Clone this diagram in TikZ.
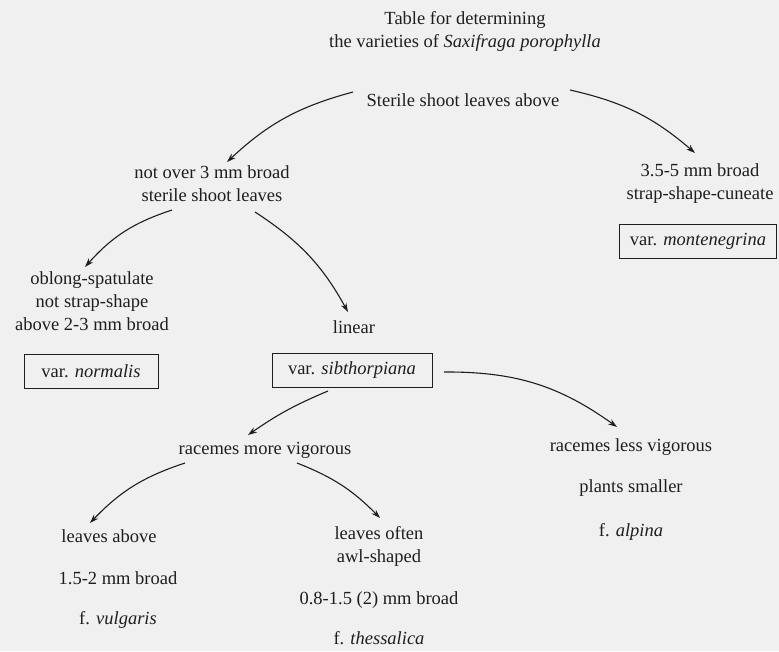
\documentclass[tikz,border=0pt]{standalone}
\usepackage{fontspec}
\usetikzlibrary{arrows.meta}
\setmainfont{Liberation Serif}
\definecolor{paper}{RGB}{240,240,240}
\definecolor{ink}{RGB}{30,30,30}

\begin{document}
\begin{tikzpicture}[x=1pt, y=-1pt,
    varbox/.style={rectangle, draw=ink, line width=1pt, minimum height=34pt, inner sep=0pt},
    keyarrow/.style={draw=ink, line width=1.1pt, ->, >={Stealth[length=9pt,width=6pt]}}]
  \tikzstyle{every node}=[font=\fontsize{18.5}{23}\selectfont, text=ink]

  % Background
  \fill[paper] (0,0) rectangle (779,651);
  \useasboundingbox (0,0) rectangle (779,651);

  % Title
  \node (title) at (465,31) {\tabular{c} Table for determining\\ the varieties of \textit{Saxifraga porophylla} \endtabular};

  % First split
  \node (sterile) at (463,100) {Sterile shoot leaves above};
  \node (narrow) at (212,185) {\tabular{c} not over 3 mm broad\\ sterile shoot leaves \endtabular};
  \node (broad) at (700,183) {\tabular{c} 3.5-5 mm broad\\ strap-shape-cuneate \endtabular};
  \node (montenegrina) [varbox, minimum width=157pt] at (698,241) {var. \textit{montenegrina}};

  % Second split
  \node (oblong) at (92,303) {\tabular{c} oblong-spatulate\\ not strap-shape\\ above 2-3 mm broad \endtabular};
  \node (linear) at (354,327) {linear};
  \node (normalis) [varbox, minimum width=134pt] at (91,371) {var. \textit{normalis}};
  \node (sibthorpiana) [varbox, minimum width=160pt] at (352,370) {var. \textit{sibthorpiana}};

  % Racemes
  \node (rmore) at (265,450) {racemes more vigorous};
  \node (rless) at (631,447) {racemes less vigorous};
  \node (smaller) at (631,488) {plants smaller};
  \node (alpina) at (631,532) {f. \textit{alpina}};

  % Forms
  \node (labove) at (109,536) {leaves above};
  \node (lbroad) at (118,578) {1.5-2 mm broad};
  \node (vulgaris) at (118,620) {f. \textit{vulgaris}};
  \node (loften) at (379,546) {\tabular{c} leaves often\\ awl-shaped \endtabular};
  \node (obroad) at (379,600) {0.8-1.5 (2) mm broad};
  \node (thessalica) at (379,638) {f. \textit{thessalica}};

  % Arrows
  \draw[keyarrow] ([shift={(-110,-8)}]sterile.center) to[bend right=14] ([shift={(15,-23)}]narrow.center);
  \draw[keyarrow] ([shift={(107,-10)}]sterile.center) to[bend left=14] ([shift={(-5,-30)}]broad.center);
  \draw[keyarrow] ([shift={(-40,25)}]narrow.center) to[bend right=15] ([shift={(-7,-36)}]oblong.center);
  \draw[keyarrow] ([shift={(43,27)}]narrow.center) to[bend left=14] ([shift={(-6,-15)}]linear.center);
  \draw[keyarrow] ([shift={(-24,21)}]sibthorpiana.center) to[bend right=6] ([shift={(-17,-15)}]rmore.center);
  \draw[keyarrow] ([shift={(92,2)}]sibthorpiana.center) to[bend left=18] ([shift={(-14,-20)}]rless.center);
  \draw[keyarrow] ([shift={(-80,13)}]rmore.center) to[bend right=14] ([shift={(-19,-13)}]labove.center);
  \draw[keyarrow] ([shift={(32,13)}]rmore.center) to[bend left=12] ([shift={(1,-28)}]loften.center);
\end{tikzpicture}
\end{document}
